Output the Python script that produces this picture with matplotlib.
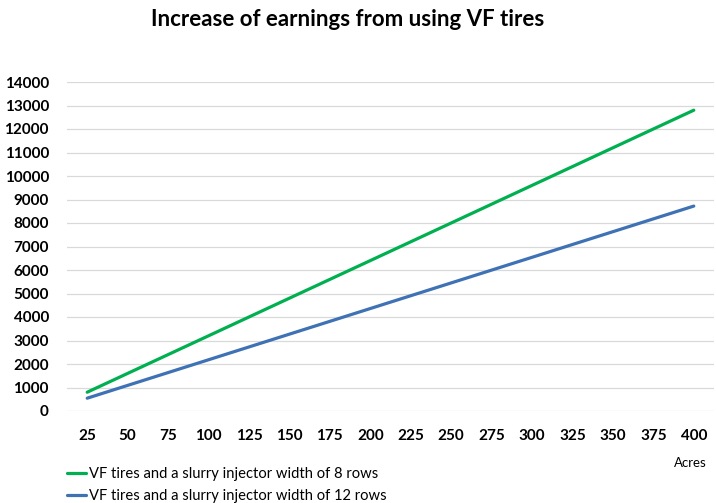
import matplotlib.pyplot as plt
import numpy as np

# data
acres = [25, 50, 75, 100, 125, 150, 175, 200, 225, 250, 275, 300, 325, 350, 375, 400]
rows8 = [800, 1600, 2400, 3200, 4000, 4800, 5600, 6400, 7200, 8000, 8800, 9600, 10400, 11200, 12000, 12800]
rows12 = [545, 1090, 1635, 2180, 2725, 3270, 3815, 4360, 4905, 5450, 5995, 6540, 7085, 7630, 8175, 8720]
labels = ["VF tires and a slurry injector width of 8 rows",
          "VF tires and a slurry injector width of 12 rows"]

plt.rcParams['font.family'] = ['Lato', 'DejaVu Sans']

fig = plt.figure(figsize=(7.16, 5.03), dpi=100)
ax = fig.add_axes([67/716, 1 - 411/503, (714 - 67)/716, (411 - 82)/503])

x = np.arange(len(acres))
l1, = ax.plot(x, rows8, color='#00B050', lw=2.3, solid_capstyle='round')
l2, = ax.plot(x, rows12, color='#3F72B5', lw=2.3, solid_capstyle='round')

ax.set_xlim(-0.5, len(acres) - 0.5)
ax.set_ylim(0, 14000)
ax.set_yticks(range(0, 14001, 1000))
ax.set_xticks(x)
ax.set_xticklabels([str(a) for a in acres])
ax.tick_params(length=0, labelsize=11)
ax.tick_params(axis='x', pad=13)
ax.tick_params(axis='y', pad=13)
for lab in ax.get_xticklabels() + ax.get_yticklabels():
    lab.set_fontweight('bold')
ax.grid(axis='y', color='#D9D9D9', lw=0.9)
ax.set_axisbelow(True)
for s in ax.spines.values():
    s.set_visible(False)

fig.text(348/716, 1 - 20/503, "Increase of earnings from using VF tires",
         ha='center', va='center', fontsize=16, fontweight='bold')
fig.text(707/716, 1 - 463/503, "Acres", ha='right', va='center', fontsize=9.5)

fig.legend([l1, l2], labels, loc='upper left', bbox_to_anchor=(60/716, 1 - 460/503),
           frameon=False, fontsize=10.6, handlelength=1.3, handletextpad=0.15,
           labelspacing=0.55, borderpad=0)

fig.savefig("out.png", dpi=100)
